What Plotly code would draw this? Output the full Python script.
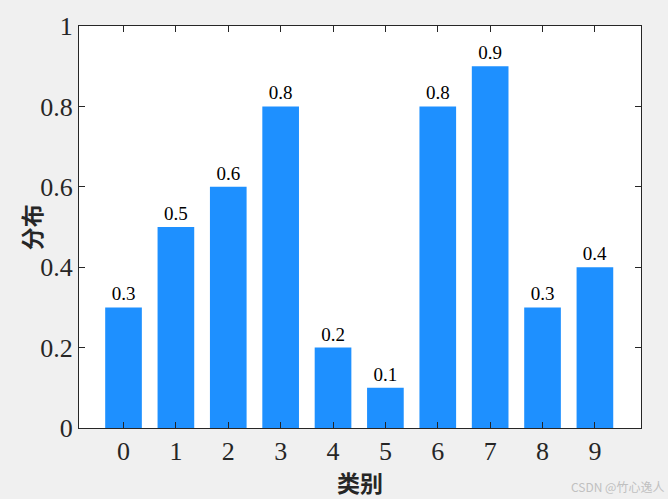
import plotly.graph_objects as go

categories = [0, 1, 2, 3, 4, 5, 6, 7, 8, 9]
values = [0.3, 0.5, 0.6, 0.8, 0.2, 0.1, 0.8, 0.9, 0.3, 0.4]
y_ticks = [0, 0.2, 0.4, 0.6, 0.8, 1]
y_tick_text = ["0", "0.2", "0.4", "0.6", "0.8", "1"]

serif = "Liberation Serif, Times New Roman, serif"
cjk = "Noto Sans CJK SC"
ink = "#262626"

fig = go.Figure(go.Bar(
    x=categories, y=values, width=0.7,
    marker=dict(color="#1e90ff", line=dict(width=0)),
    text=[f"{v:g}" for v in values], textposition="outside",
    textfont=dict(family=serif, size=19, color="black"),
    cliponaxis=False,
))

fig.update_layout(
    width=668, height=499,
    margin=dict(l=79, r=27, t=18, b=71),
    paper_bgcolor="#f0f0f0", plot_bgcolor="white",
    showlegend=False,
    uniformtext=dict(minsize=19, mode="show"),
    annotations=[
        dict(text="类别", x=0.5, xref="paper", y=-0.135, yref="paper",
             xanchor="center", yanchor="middle", showarrow=False,
             font=dict(family=cjk, size=23, color=ink, weight="bold")),
        dict(text="分布", x=-0.085, xref="paper", y=0.5, yref="paper",
             xanchor="center", yanchor="middle", showarrow=False, textangle=-90,
             font=dict(family=cjk, size=23, color=ink, weight="bold")),
        dict(text="CSDN @竹心逸人", x=1.045, xref="paper", y=-0.145, yref="paper",
             xanchor="right", yanchor="middle", showarrow=False,
             font=dict(family=cjk, size=12, color="#c0c0c0")),
    ],
)

fig.update_xaxes(
    range=[-0.85, 9.88], tickvals=categories,
    ticks="inside", ticklen=6, tickcolor=ink, tickwidth=1,
    showline=True, linecolor=ink, linewidth=1, mirror="ticks",
    showgrid=False, zeroline=False,
    tickfont=dict(family=serif, size=26, color=ink),
)
fig.update_yaxes(
    range=[0, 1], tickvals=y_ticks, ticktext=y_tick_text,
    ticks="inside", ticklen=6, tickcolor=ink, tickwidth=1,
    showline=True, linecolor=ink, linewidth=1, mirror="ticks",
    showgrid=False, zeroline=False,
    tickfont=dict(family=serif, size=26, color=ink),
)

fig.write_html("out.html", config={"displayModeBar": False},
               post_script="document.body.style.margin='0';")
